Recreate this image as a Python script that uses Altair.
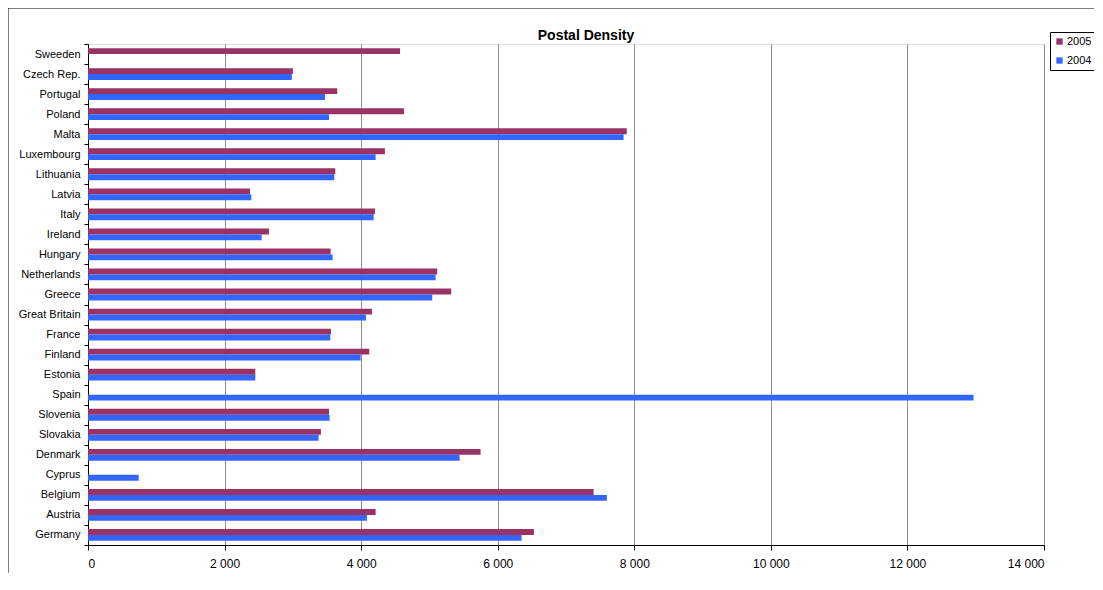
import altair as alt
import pandas as pd

countries = ["Sweeden", "Czech Rep.", "Portugal", "Poland", "Malta", "Luxembourg",
             "Lithuania", "Latvia", "Italy", "Ireland", "Hungary", "Netherlands",
             "Greece", "Great Britain", "France", "Finland", "Estonia", "Spain",
             "Slovenia", "Slovakia", "Denmark", "Cyprus", "Belgium", "Austria", "Germany"]
v2005 = [4570, 3000, 3650, 4627, 7890, 4348, 3621, 2372, 4202, 2650, 3553, 5114,
         5319, 4158, 3558, 4119, 2450, None, 3529, 3411, 5749, None, 7404, 4212, 6530]
v2004 = [None, 2985, 3470, 3530, 7843, 4212, 3607, 2391, 4183, 2543, 3582, 5090,
         5041, 4070, 3548, 3993, 2450, 12968, 3538, 3377, 5442, 742, 7599, 4085, 6350]
series = ["2005", "2004"]
colors = ["#993366", "#3366FF"]
x_ticks = [0, 2000, 4000, 6000, 8000, 10000, 12000, 14000]
title_text = "Postal Density"

rows = []
for c, a, b in zip(countries, v2005, v2004):
    if a is not None:
        rows.append({"country": c, "year": "2005", "value": a})
    if b is not None:
        rows.append({"country": c, "year": "2004", "value": b})
df = pd.DataFrame(rows)

W, H = 956, 501
FONT = "Liberation Sans"

bars = alt.Chart(df).mark_bar().encode(
    y=alt.Y("country:N", sort=countries, title=None,
            scale=alt.Scale(paddingInner=0, paddingOuter=0),
            axis=alt.Axis(tickBand="extent", tickSize=4, labelPadding=4,
                          domainColor="black", tickColor="black",
                          labelFont=FONT, labelFontSize=11, labelColor="black",
                          grid=False)),
    yOffset=alt.YOffset("year:N", sort=series,
                        scale=alt.Scale(domain=series, paddingInner=0, paddingOuter=0.7)),
    x=alt.X("value:Q", title=None,
            scale=alt.Scale(domain=[0, 14000], nice=False),
            axis=alt.Axis(values=x_ticks, tickSize=5, labelPadding=8,
                          domainColor="black", tickColor="black",
                          labelFont=FONT, labelFontSize=12, labelColor="black",
                          labelExpr="replace(format(datum.value, ',d'), ',', ' ')",
                          grid=True, gridColor="#8c8c8c", gridWidth=1)),
    color=alt.Color("year:N", sort=series,
                    scale=alt.Scale(domain=series, range=colors),
                    legend=alt.Legend(title=None, orient="none", legendX=962, legendY=-12,
                                      symbolType="square", symbolSize=40,
                                      symbolStrokeWidth=0, labelOffset=2,
                                      labelFont=FONT, labelFontSize=11,
                                      labelColor="black", strokeColor="black",
                                      padding=4, rowPadding=7, fillColor="white")),
)

frame = alt.Chart(pd.DataFrame({"k": [0]})).mark_rect(
    fill=None, stroke="black", strokeWidth=1
).encode(
    x=alt.value(-80), x2=alt.value(1300), y=alt.value(-36), y2=alt.value(700)
)

title = alt.Chart(pd.DataFrame({"t": [title_text]})).mark_text(
    font=FONT, fontSize=14, fontWeight="bold", color="black",
    align="center", baseline="alphabetic"
).encode(text="t:N", x=alt.value(498), y=alt.value(-4))

chart = alt.layer(frame, bars, title).properties(
    width=W, height=H,
    autosize=alt.AutoSizeParams(type="none"),
    padding={"left": 80, "top": 36, "right": 50, "bottom": 28},
).configure_view(stroke="#8c8c8c", strokeWidth=1.5).configure(background="white")

chart.save("out.html", embed_options={"renderer": "svg", "actions": False})
